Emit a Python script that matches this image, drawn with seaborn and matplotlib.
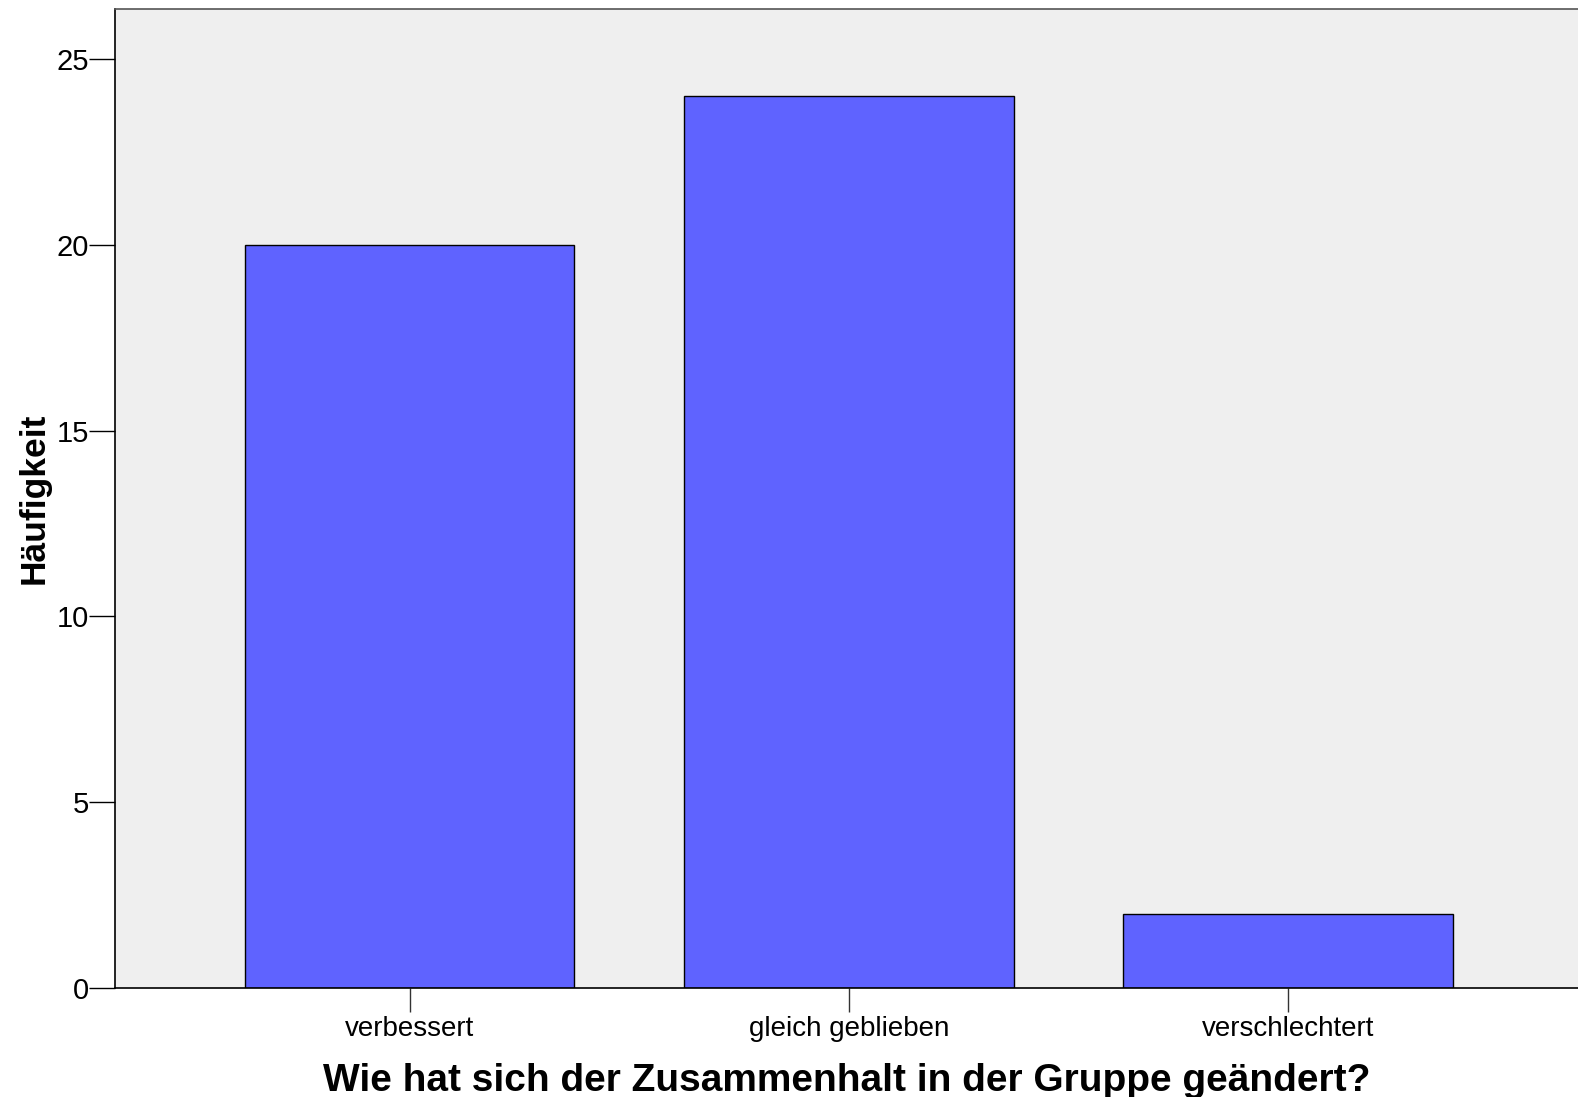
import matplotlib
matplotlib.use("Agg")
import matplotlib.pyplot as plt
import seaborn as sns
import pandas as pd

# data
kategorien = ["verbessert", "gleich geblieben", "verschlechtert"]
haeufigkeit = [20, 24, 2]
y_ticks = [0, 5, 10, 15, 20, 25]

df = pd.DataFrame({"kategorie": kategorien, "anzahl": haeufigkeit})

sns.set_style("white")
plt.rcParams["font.family"] = ["Liberation Sans", "DejaVu Sans"]
plt.rcParams["text.color"] = "black"
plt.rcParams["axes.labelcolor"] = "black"
plt.rcParams["xtick.color"] = "black"
plt.rcParams["ytick.color"] = "black"

fig = plt.figure(figsize=(15.78, 10.97), dpi=100)
ax = fig.add_axes([0.073, 0.0994, 0.927, 0.8924])
ax.set_facecolor("#efefef")

sns.barplot(data=df, x="kategorie", y="anzahl", color="#5f63ff", saturation=1,
            width=0.75, edgecolor="black", linewidth=1, ax=ax)

ax.set_xlim(-0.67, 2.66)
ax.set_ylim(0, 26.35)
ax.set_yticks(y_ticks)

ax.tick_params(axis="y", direction="out", length=19, width=1, pad=0,
               labelsize=21, left=True)
ax.tick_params(axis="x", direction="out", length=17, width=1, pad=3,
               labelsize=20, color="#333333", bottom=True)

ax.set_ylabel("Häufigkeit", fontsize=25.5, fontweight="bold", labelpad=4)
ax.set_xlabel("Wie hat sich der Zusammenhalt in der Gruppe geändert?",
              fontsize=28, fontweight="bold", labelpad=15)

for side in ["left", "bottom", "top"]:
    ax.spines[side].set_visible(True)
    ax.spines[side].set_color("black")
    ax.spines[side].set_linewidth(1.2)
ax.spines["top"].set_color("#555555")
ax.spines["right"].set_visible(False)

plt.savefig("out.png", dpi=100)
